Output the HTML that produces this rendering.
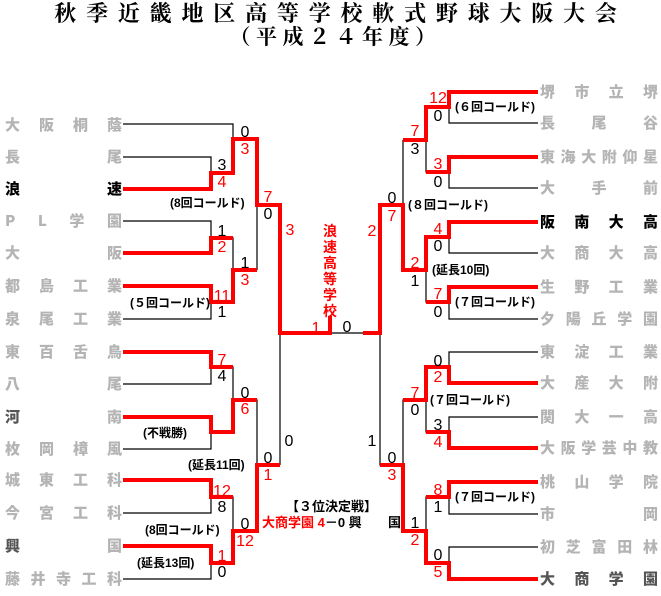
<!DOCTYPE html>
<html><head><meta charset="utf-8"><style>
html,body{margin:0;padding:0;background:#fff;}
body{width:661px;height:596px;position:relative;overflow:hidden;font-family:"Liberation Sans","Noto Sans CJK JP",sans-serif;}
.t1{position:absolute;left:0;width:661px;top:0;text-align:center;font-family:"Liberation Serif","Noto Serif CJK SC",serif;font-size:22px;font-weight:bold;letter-spacing:9.8px;line-height:28px;padding-left:10px;}
.t2{position:absolute;left:0;width:661px;top:24px;text-align:center;font-family:"Liberation Serif","Noto Serif CJK SC",serif;font-size:21px;font-weight:bold;letter-spacing:5.5px;line-height:26px;padding-left:5px;}
.n{position:absolute;display:flex;justify-content:space-between;font-family:"Noto Sans CJK JP",sans-serif;font-weight:900;font-size:15px;color:#b4b4b4;line-height:18px;}
.L{left:5px;width:117px;}
.R{left:540px;width:118px;}
.b{color:#000;}
svg{position:absolute;left:0;top:0;}
</style></head><body>
<div class="t1">秋季近畿地区高等学校軟式野球大阪大会</div>
<div class="t2">（平成２４年度）</div>

<div class="n L" style="top:116px"><span>大</span><span>阪</span><span>桐</span><span>蔭</span></div>
<div class="n L" style="top:148px"><span>長</span><span>尾</span></div>
<div class="n L b" style="top:180px"><span>浪</span><span>速</span></div>
<div class="n L" style="top:212px"><span>P</span><span>L</span><span>学</span><span>園</span></div>
<div class="n L" style="top:244px"><span>大</span><span>阪</span></div>
<div class="n L" style="top:277px"><span>都</span><span>島</span><span>工</span><span>業</span></div>
<div class="n L" style="top:310px"><span>泉</span><span>尾</span><span>工</span><span>業</span></div>
<div class="n L" style="top:343px"><span>東</span><span>百</span><span>舌</span><span>鳥</span></div>
<div class="n L" style="top:375px"><span>八</span><span>尾</span></div>
<div class="n L" style="top:408px"><span style="color:#555">河</span><span>南</span></div>
<div class="n L" style="top:440px"><span>枚</span><span>岡</span><span>樟</span><span>風</span></div>
<div class="n L" style="top:471px"><span>城</span><span>東</span><span>工</span><span>科</span></div>
<div class="n L" style="top:504px"><span>今</span><span>宮</span><span>工</span><span>科</span></div>
<div class="n L" style="top:537px"><span style="color:#555">興</span><span>国</span></div>
<div class="n L" style="top:570px"><span>藤</span><span>井</span><span>寺</span><span>工</span><span>科</span></div>

<div class="n R" style="top:83px"><span>堺</span><span>市</span><span>立</span><span>堺</span></div>
<div class="n R" style="top:114px"><span>長</span><span>尾</span><span>谷</span></div>
<div class="n R" style="top:148px"><span>東</span><span>海</span><span>大</span><span>附</span><span>仰</span><span>星</span></div>
<div class="n R" style="top:179px"><span>大</span><span>手</span><span>前</span></div>
<div class="n R b" style="top:213px"><span>阪</span><span>南</span><span>大</span><span>高</span></div>
<div class="n R" style="top:244px"><span>大</span><span>商</span><span>大</span><span>高</span></div>
<div class="n R" style="top:278px"><span>生</span><span>野</span><span>工</span><span>業</span></div>
<div class="n R" style="top:310px"><span>夕</span><span>陽</span><span>丘</span><span>学</span><span>園</span></div>
<div class="n R" style="top:343px"><span>東</span><span>淀</span><span>工</span><span>業</span></div>
<div class="n R" style="top:374px"><span>大</span><span>産</span><span>大</span><span>附</span></div>
<div class="n R" style="top:408px"><span>関</span><span>大</span><span>一</span><span>高</span></div>
<div class="n R" style="top:439px"><span>大</span><span>阪</span><span>学</span><span>芸</span><span>中</span><span>教</span></div>
<div class="n R" style="top:473px"><span>桃</span><span>山</span><span>学</span><span>院</span></div>
<div class="n R" style="top:505px"><span>市</span><span>岡</span></div>
<div class="n R" style="top:538px"><span>初</span><span>芝</span><span>富</span><span>田</span><span>林</span></div>
<div class="n R" style="top:570px"><span style="color:#555">大</span><span style="color:#555">商</span><span style="color:#555">学</span><span style="color:#555">園</span></div>

<svg width="661" height="596" viewBox="0 0 661 596">
<g fill="none" stroke="#000" stroke-width="1.2">
<path d="M123 124H233V173M123 157H211V189H123M211 173H233M233 139H257V270M123 221H211V253H123M211 238H233V302M233 270H257M123 286H211V319H123M211 302H233M257 205H280V465M280 333H380"/>
<path d="M123 352H211V384H123M211 367H233V432M123 417H211V449H123M211 432H233M233 400H257V531M123 480H211V513H123M211 497H233V563M123 546H211V579H123M211 563H233M233 531H257M257 465H280"/>
<path d="M538 92H449V123H538M538 157H449V188H538M538 222H449V253H538M538 287H449V319H538M538 352H449V383H538M538 417H449V448H538M538 482H449V514H538M538 547H449V579H538"/>
<path d="M449 107H426V172H449M426 140H403M449 237H426V302H449M426 270H403M403 140V270M403 205H380V465H403M449 367H426V432H449M426 400H403V531H426M449 497H426V563H449"/>
</g>
<g fill="none" stroke="#f00" stroke-width="4" stroke-linejoin="miter">
<path d="M123 189H211V173H233V139H257V205H280V333H330V316"/>
<path d="M123 253H211V238H233"/>
<path d="M123 286H211V302H233V270H257"/>
<path d="M123 352H211V367H233"/>
<path d="M123 417H211V432H233V400H257"/>
<path d="M123 480H211V497H233"/>
<path d="M123 546H211V563H233V531H257V465H280"/>
<path d="M538 92H449V107H426V140H403"/>
<path d="M538 157H449V172H426"/>
<path d="M538 222H449V237H426V270H403V205H380V333H363"/>
<path d="M538 287H449V302H426"/>
<path d="M538 383H449V367H426V400H403"/>
<path d="M538 448H449V432H426"/>
<path d="M538 482H449V497H426"/>
<path d="M538 579H449V563H426V531H403V465H380"/>
</g>
<g font-family="Liberation Sans, sans-serif" font-size="16" text-anchor="middle">
<g fill="#000">
<text x="245" y="137">0</text><text x="222" y="170">3</text><text x="268" y="219">0</text>
<text x="222" y="236">1</text><text x="245" y="268">1</text><text x="222" y="317">1</text>
<text x="347" y="332">0</text>
<text x="222" y="381">4</text><text x="245" y="398">0</text><text x="289" y="446">0</text>
<text x="268" y="463">0</text><text x="222" y="512">8</text><text x="245" y="529">0</text><text x="222" y="577">0</text>
<text x="438" y="121">0</text><text x="415" y="154">3</text><text x="438" y="187">0</text>
<text x="392" y="203">0</text><text x="438" y="251">0</text><text x="415" y="286">1</text><text x="438" y="317">0</text>
<text x="438" y="366">0</text><text x="415" y="415">0</text><text x="438" y="430">3</text>
<text x="372" y="446">1</text><text x="392" y="463">0</text><text x="438" y="512">1</text>
<text x="415" y="528">1</text><text x="438" y="560">0</text>
</g>
<g fill="#f00">
<text x="245" y="154">3</text><text x="222" y="187">4</text><text x="268" y="202">7</text>
<text x="290" y="235">3</text><text x="222" y="252">2</text><text x="245" y="285">3</text>
<text x="222" y="301">11</text><text x="316" y="333">1</text><text x="372" y="236">2</text>
<text x="222" y="365">7</text><text x="245" y="414">6</text><text x="268" y="480">1</text>
<text x="222" y="496">12</text><text x="245" y="546">12</text><text x="222" y="561">1</text>
<text x="438" y="103">12</text><text x="415" y="136">7</text><text x="438" y="169">3</text>
<text x="392" y="221">7</text><text x="438" y="234">4</text><text x="415" y="268">2</text><text x="438" y="299">7</text>
<text x="438" y="382">2</text><text x="415" y="398">7</text><text x="438" y="447">4</text>
<text x="392" y="480">3</text><text x="438" y="495">8</text><text x="415" y="545">2</text><text x="438" y="577">5</text>
</g>
</g>
<g font-family="Liberation Sans, Noto Sans CJK JP, sans-serif" font-size="12" font-weight="bold" fill="#000">
<text x="170" y="207">(8回コールド)</text>
<text x="130" y="307">(５回コールド)</text>
<text x="143" y="437">(不戦勝)</text>
<text x="188" y="469">(延長11回)</text>
<text x="145" y="534">(8回コールド)</text>
<text x="137" y="567">(延長13回)</text>
<text x="455" y="111">(６回コールド)</text>
<text x="408" y="209">(８回コールド)</text>
<text x="432" y="274">(延長10回)</text>
<text x="455" y="306">(７回コールド)</text>
<text x="430" y="404">(７回コールド)</text>
<text x="455" y="501">(７回コールド)</text>
</g>
<g font-family="Liberation Sans, Noto Sans CJK JP, sans-serif" font-size="13" font-weight="bold" fill="#000">
<text x="286" y="511">【３位決定戦】</text>
<text x="262" y="527"><tspan fill="#f00">大商学園 4</tspan>－0 興<tspan x="388">国</tspan></text>
</g>
<g font-family="Noto Sans CJK JP, sans-serif" font-size="14" font-weight="bold" fill="#f00" text-anchor="middle">
<text x="330" y="236">浪</text><text x="330" y="252">速</text><text x="330" y="268">高</text>
<text x="330" y="284">等</text><text x="330" y="300">学</text><text x="330" y="316">校</text>
</g>
</svg>
</body></html>
